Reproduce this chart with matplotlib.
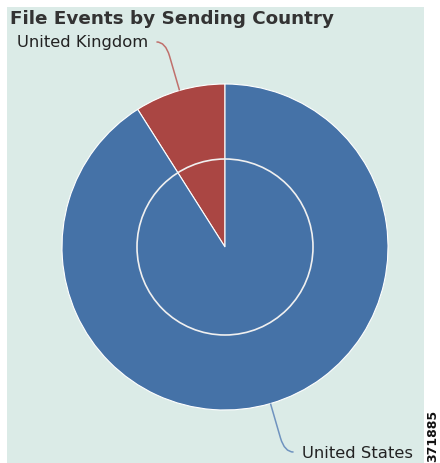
import matplotlib
matplotlib.use("Agg")
import matplotlib.pyplot as plt
import numpy as np
from matplotlib.patches import Rectangle, Circle, PathPatch
from matplotlib.path import Path

# data
countries = ["United States", "United Kingdom"]
events = [91, 9]
colors = ["#4572a7", "#aa4643"]
line_colors = ["#6f93bf", "#c0706c"]

title = "File Events by Sending Country"

W, H = 440, 464
cx, cy, R = 225, 248, 163  # pie centre and radius in pixels (from top-left)

fig = plt.figure(figsize=(W / 100, H / 100), dpi=100)
fig.patch.set_facecolor("white")

ax = fig.add_axes([0, 0, 1, 1])

# UK wedge goes counter-clockwise from the top, US takes the rest
wedges = ax.pie(events[::-1], colors=colors[::-1], startangle=90,
                counterclock=True, radius=1,
                wedgeprops=dict(edgecolor="white", linewidth=0.8))[0]

# pie() resets the limits, so set them afterwards
ax.set_xlim(-cx / R, (W - cx) / R)
ax.set_ylim(-(H - cy) / R, cy / R)
ax.set_aspect("equal")
ax.axis("off")

# light panel behind the chart
ax.add_patch(Rectangle((7 / W, 0), (424 - 7) / W, (H - 8) / H,
                       transform=fig.transFigure, facecolor="#dbebe7",
                       edgecolor="none", zorder=-10, clip_on=False))

ax.add_patch(Circle((0, 0), 88 / R, facecolor="none", edgecolor="#f0f0f0",
                    linewidth=1.2, zorder=5))

# connector lines and labels
for w, name, lc in zip(wedges, countries[::-1], line_colors[::-1]):
    mid = np.deg2rad((w.theta1 + w.theta2) / 2)
    ux, uy = np.cos(mid), np.sin(mid)
    side = 1 if ux > 0 else -1
    p0 = (ux, uy)
    p1 = (1.22 * ux, 1.22 * uy)
    ctrl = (1.31 * ux, 1.31 * uy)
    p2 = (ctrl[0] + side * 0.055, ctrl[1])
    path = Path([p0, p1, ctrl, p2],
                [Path.MOVETO, Path.LINETO, Path.CURVE3, Path.CURVE3])
    ax.add_patch(PathPatch(path, facecolor="none", edgecolor=lc,
                           linewidth=1.1, zorder=6))
    ax.text(p2[0] + side * 0.05, p2[1], name,
            ha="left" if side > 0 else "right",
            va="center", fontsize=11.8, color="#222222", family="DejaVu Sans")

fig.text(10 / W, 1 - 19 / H, title, ha="left", va="center", fontsize=13.2,
         fontweight="bold", color="#333333", family="DejaVu Sans")

fig.text(433 / W, 1 - 436 / H, "371885", rotation=90, ha="center", va="center",
         fontsize=9, fontweight="bold", color="#111111", family="DejaVu Sans")

fig.savefig("out.png", dpi=100)
